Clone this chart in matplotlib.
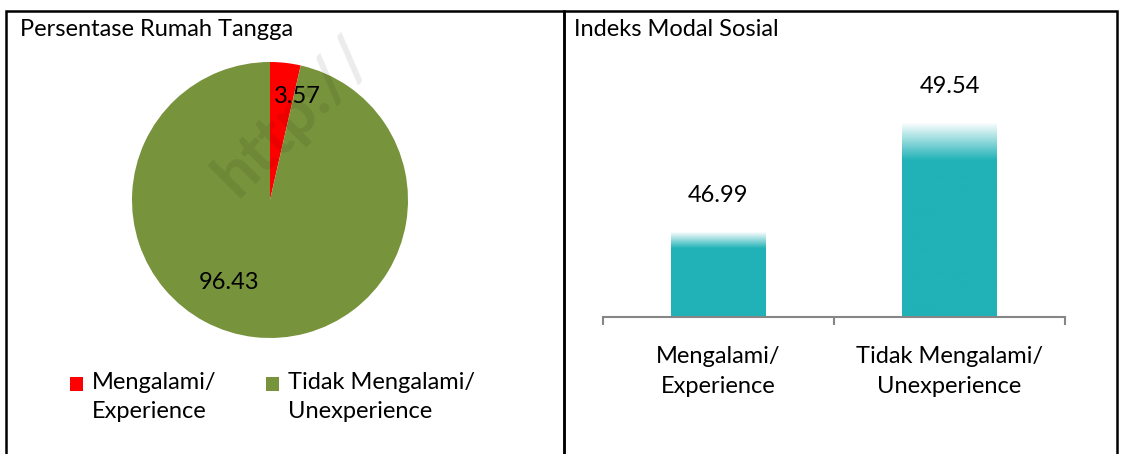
import numpy as np
import matplotlib
matplotlib.use("Agg")
import matplotlib.pyplot as plt
from matplotlib.patches import Rectangle

plt.rcParams["font.family"] = ["Lato", "DejaVu Sans"]

# Données
pie_labels = ["Mengalami/\nExperience", "Tidak Mengalami/\nUnexperience"]
pie_values = [3.57, 96.43]
pie_colors = ["#FF0000", "#77933C"]

bar_labels = ["Mengalami/\nExperience", "Tidak Mengalami/\nUnexperience"]
bar_values = [46.99, 49.54]
bar_color = "#20B2B7"

W, H = 1124, 454
FS = 17
fig = plt.figure(figsize=(W / 100, H / 100), dpi=100)
fig.patch.set_facecolor("white")


def fx(px):
    return px / W


def fy(py):
    return 1 - py / H


# Cadres des deux panneaux
for x0, x1 in [(6, 564), (564, 1117)]:
    fig.patches.append(Rectangle((fx(x0), fy(470)), fx(x1 - x0), (470 - 11) / H,
                                 transform=fig.transFigure, fill=False,
                                 edgecolor="black", linewidth=1.8, zorder=10))

fig.text(fx(20), fy(30), "Persentase Rumah Tangga", fontsize=FS, va="center", ha="left")
fig.text(fx(574), fy(30), "Indeks Modal Sosial", fontsize=FS, va="center", ha="left")

# Camembert
cx, cy, r = 270, 200, 138
ax1 = fig.add_axes([fx(cx - r), fy(cy + r), fx(2 * r), 2 * r / H])
ax1.pie(pie_values, colors=pie_colors, startangle=90, counterclock=False,
        wedgeprops=dict(linewidth=0))
ax1.set_xlim(-1, 1)
ax1.set_ylim(-1, 1)
ax1.set_aspect("auto")
label_pos = [(0.20, 0.75), (-0.30, -0.60)]
for (lx, ly), v in zip(label_pos, pie_values):
    ax1.text(lx, ly, f"{v:.2f}", fontsize=FS, ha="center", va="center")

# Légende manuelle
leg_x = [70, 266]
for x, lab, col in zip(leg_x, pie_labels, pie_colors):
    fig.patches.append(Rectangle((fx(x), fy(391)), fx(13), 14 / H,
                                 transform=fig.transFigure, facecolor=col,
                                 edgecolor="none"))
    fig.text(fx(x + 22), fy(372), lab, fontsize=FS, ha="left", va="top",
             linespacing=1.5)

# Filigrane
fig.text(fx(293), fy(117), "http://", fontsize=46, fontweight="bold",
         rotation=45, color="black", alpha=0.08, ha="center", va="center",
         rotation_mode="anchor")

# Barres
ymin, ymax = 45, 50
ax2 = fig.add_axes([fx(603), fy(317), fx(462), (317 - 103.5) / H])
x = np.arange(len(bar_values))
bars = ax2.bar(x, [v - ymin for v in bar_values], bottom=ymin, width=0.41,
               color=bar_color, linewidth=0)

teal = np.array(matplotlib.colors.to_rgb(bar_color))
for b, v in zip(bars, bar_values):
    b.set_facecolor("none")
    t = np.linspace(0, 1, 200)  # 0 = bas, 1 = haut
    frac = np.clip((t - 0.81) / 0.19, 0, 1) * 0.97
    rgb = teal[None, :] * (1 - frac[:, None]) + frac[:, None]
    x0 = b.get_x()
    im = ax2.imshow(rgb[::-1, None, :], extent=[x0, x0 + b.get_width(), ymin, v],
                    aspect="auto", interpolation="bilinear", zorder=2)
    im.set_clip_path(b)
    ax2.text(x0 + b.get_width() / 2, v + 0.85, f"{v:.2f}", fontsize=FS,
             ha="center", va="center")
ax2.set_xlim(-0.5, 1.5)
ax2.set_ylim(ymin, ymax)

for s in ["top", "right", "left"]:
    ax2.spines[s].set_visible(False)
ax2.spines["bottom"].set_color("#868686")
ax2.spines["bottom"].set_linewidth(1.5)
ax2.set_yticks([])
ax2.set_xticks(x)
ax2.set_xticklabels(bar_labels, fontsize=FS, linespacing=1.5)
ax2.tick_params(axis="x", which="major", length=0, pad=21)
ax2.set_xticks([-0.5, 0.5, 1.5], minor=True)
ax2.tick_params(axis="x", which="minor", length=6, width=1.5, color="#868686",
                direction="out")
ax2.set_facecolor("none")

fig.savefig("out.png", dpi=100)
